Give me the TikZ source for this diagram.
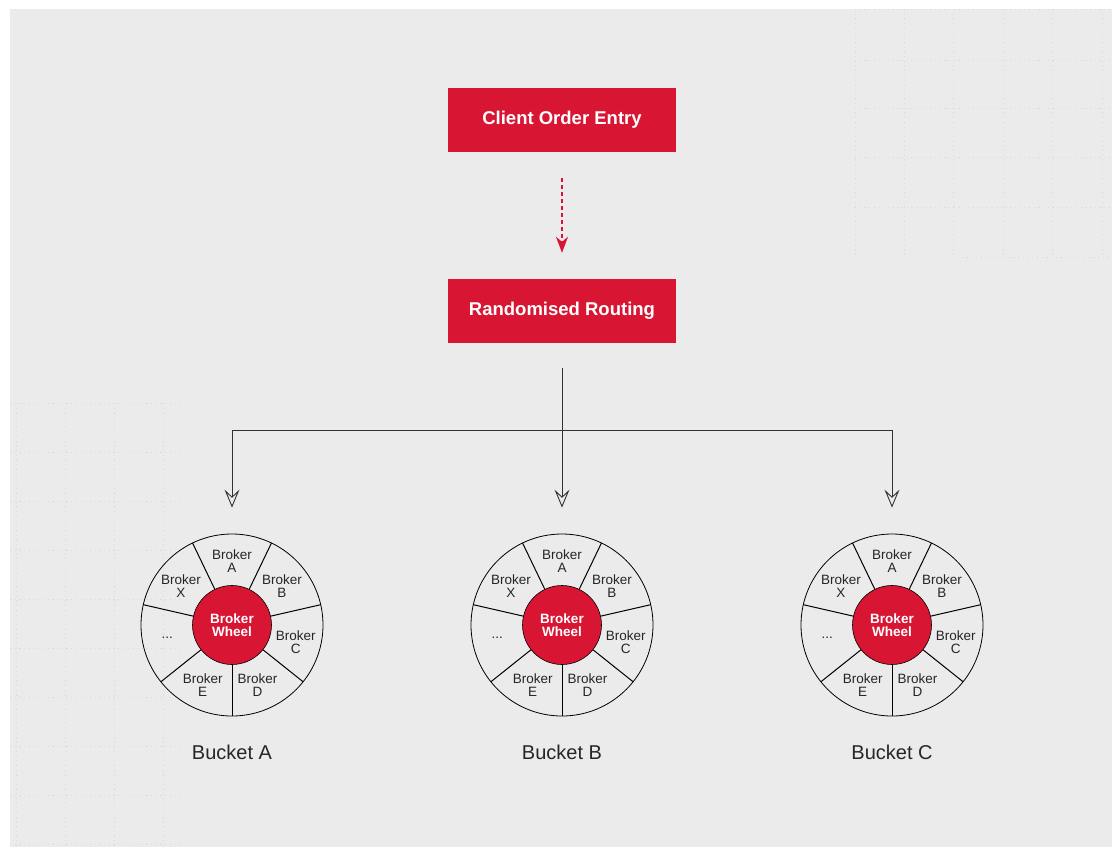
\documentclass[tikz,border=0pt]{standalone}
\usepackage{fontspec}
\setmainfont{Liberation Sans}
\usetikzlibrary{arrows.meta}
\definecolor{crimson}{RGB}{216,22,52}
\definecolor{bgpaper}{RGB}{235,235,235}
\definecolor{gridc}{RGB}{220,220,220}
\definecolor{linec}{RGB}{50,50,50}
\tikzset{
  redbox/.style={fill=crimson, text=white, minimum width=228pt, minimum height=64pt,
    inner sep=0pt, font=\fontsize{18.5}{20}\selectfont\bfseries},
  wheel/.style={circle, draw=black, line width=0.8pt, minimum size=182pt, inner sep=0pt},
  hub/.style={circle, fill=crimson, draw=black, line width=0.6pt, minimum size=79pt, inner sep=0pt,
    text=white, align=center, font=\fontsize{13.5}{13}\selectfont\bfseries},
  slot/.style={align=center, font=\fontsize{13.5}{13}\selectfont, text=black!85, inner sep=0pt},
  spoke/.style={draw=black, line width=1pt},
  bucketlbl/.style={font=\fontsize{20}{22}\selectfont, text=black!85},
  dasharrow/.style={draw=crimson, line width=1.4pt, dash pattern=on 4pt off 3pt,
    -{Stealth[length=16pt, width=12pt, inset=5pt, fill=crimson]}, shorten <=26pt, shorten >=26pt},
  conn/.style={draw=linec, line width=0.8pt},
  openarrow/.style={-{Stealth[open, length=18pt, width=15pt, inset=7pt, line width=0.9pt]}},
  gridline/.style={draw=gridc, line width=0.7pt, dash pattern=on 1.2pt off 3.5pt}
}
\begin{document}
\begin{tikzpicture}[x=1pt, y=1pt]
\useasboundingbox (0,0) rectangle (1117,-847);
\fill[white] (0,0) rectangle (1117,-847);
\fill[bgpaper] (10,-9) rectangle (1112,-847);
% faint background grids
\foreach \gx in {855,904,953,1003,1052,1102} \draw[gridline] (\gx,-9) -- (\gx,-257);
\foreach \gy in {-9,-60,-108,-157,-207} \draw[gridline] (855,\gy) -- (1112,\gy);
\draw[gridline] (957,-257) -- (1112,-257);
\foreach \gx in {16,65,114,163} \draw[gridline] (\gx,-403) -- (\gx,-847);
\foreach \gy in {-403,-452,-501,-550,-599,-648,-697,-746,-795,-844} \draw[gridline] (10,\gy) -- (180,\gy);

% boxes
\node[redbox] (coe) at (562,-120) {Client Order Entry};
\node[redbox] (rr) at (562,-311) {Randomised Routing};
\draw[dasharrow] (coe.south) -- (rr.north);

% wheels
\foreach \nm/\cx/\lbl in {wA/232/Bucket A, wB/562/Bucket B, wC/892/Bucket C}{
  \node[wheel] (\nm) at (\cx,-625) {};
  \foreach \a in {64.3,115.7,167.1,218.6,270,321.4,12.9}
    \draw[spoke] ([shift={(\a:39.5)}]\nm.center) -- ([shift={(\a:91)}]\nm.center);
  \node[hub] (\nm hub) at (\nm.center) {Broker\\Wheel};
  \node[slot] (\nm sA) at ([shift={(90:63.5)}]\nm.center) {Broker\\A};
  \node[slot] (\nm sB) at ([shift={(37.6:63)}]\nm.center) {Broker\\B};
  \node[slot] (\nm sC) at ([shift={(-15:66)}]\nm.center) {Broker\\C};
  \node[slot] (\nm sD) at ([shift={(-67:65)}]\nm.center) {Broker\\D};
  \node[slot] (\nm sE) at ([shift={(-116:67)}]\nm.center) {Broker\\E};
  \node[slot] (\nm sX) at ([shift={(143:64)}]\nm.center) {Broker\\X};
  \node[slot] (\nm sdots) at ([shift={(191.5:66)}]\nm.center) {...};
  \node[bucketlbl] (\nm lbl) at (\cx,-752) {\lbl};
}

% routing tree
\coordinate (split) at (562,-430);
\draw[conn, shorten <=25pt] (rr.south) -- (split);
\draw[conn, openarrow, shorten >=26pt] (split) -- (wB.north);
\draw[conn, openarrow, shorten >=26pt] (split) -| (wA.north);
\draw[conn, openarrow, shorten >=26pt] (split) -| (wC.north);
\end{tikzpicture}
\end{document}
